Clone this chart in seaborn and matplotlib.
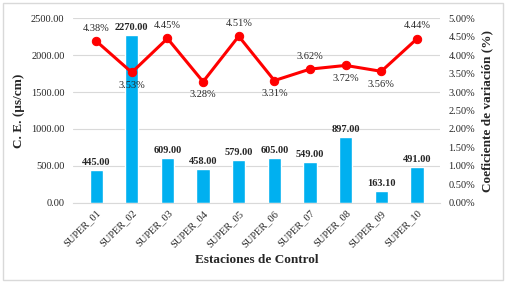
import seaborn as sns
import matplotlib.pyplot as plt
import numpy as np
import pandas as pd
from matplotlib.patches import Rectangle
from matplotlib.ticker import FuncFormatter

estaciones = ['SUPER_01', 'SUPER_02', 'SUPER_03', 'SUPER_04', 'SUPER_05',
              'SUPER_06', 'SUPER_07', 'SUPER_08', 'SUPER_09', 'SUPER_10']
ce = [445.00, 2270.00, 609.00, 458.00, 579.00, 605.00, 549.00, 897.00, 163.10, 491.00]
cv = [4.38, 3.53, 4.45, 3.28, 4.51, 3.31, 3.62, 3.72, 3.56, 4.44]
# label position for each % value: above (1) or below (-1)
cv_pos = [1, -1, 1, -1, 1, -1, 1, -1, -1, 1]

df = pd.DataFrame({'est': estaciones, 'ce': ce, 'cv': cv})

sns.set_style('white')
plt.rcParams['font.family'] = ['Liberation Serif', 'DejaVu Serif']

fig = plt.figure(figsize=(5.06, 2.83), dpi=100)
fig.patches.append(Rectangle((0.006, 0.01), 0.988, 0.98, transform=fig.transFigure,
                             fill=False, edgecolor='#d9d9d9', lw=1))
ax = fig.add_axes([0.144, 0.283, 0.726, 0.653])

sns.barplot(data=df, x='est', y='ce', color='#00b0f0', width=0.37, ax=ax,
            saturation=1, zorder=2)
ax.set_ylim(0, 2500)
ax.set_yticks(np.arange(0, 2501, 500))
ax.yaxis.set_major_formatter(FuncFormatter(lambda v, p: f'{v:.2f}'))
ax.grid(axis='y', color='#d9d9d9', lw=0.8, zorder=0)
ax.set_axisbelow(True)
for s in ['top', 'left', 'right']:
    ax.spines[s].set_visible(False)
ax.spines['bottom'].set_color('#d9d9d9')
ax.tick_params(axis='y', labelsize=7.5, length=0, pad=6)
ax.tick_params(axis='x', labelsize=7.5, length=0, pad=4)
plt.setp(ax.get_xticklabels(), rotation=45, ha='right', rotation_mode='anchor')
ax.set_xlabel('Estaciones de Control', fontsize=9.5, fontweight='bold', labelpad=4)
ax.set_ylabel('C. E. (µs/cm)', fontsize=9.5, fontweight='bold', labelpad=4)
for i, v in enumerate(ce):
    ax.text(i, v + 40, f'{v:.2f}', ha='center', va='bottom', fontsize=7.5,
            fontweight='bold')

ax2 = ax.twinx()
sns.lineplot(x=np.arange(len(cv)), y=cv, color='#ff0000', lw=2.2, marker='o',
             markersize=6, markeredgecolor='#ff0000', ax=ax2, zorder=3)
ax2.set_ylim(0, 5)
ax2.set_yticks(np.arange(0, 5.01, 0.5))
ax2.yaxis.set_major_formatter(FuncFormatter(lambda v, p: f'{v:.2f}%'))
for s in ['top', 'left', 'right', 'bottom']:
    ax2.spines[s].set_visible(False)
ax2.tick_params(axis='y', labelsize=7.5, length=0, pad=6)
ax2.set_ylabel('Coeficiente de variación (%)', fontsize=9.5, fontweight='bold',
               labelpad=4)
for i, (v, p) in enumerate(zip(cv, cv_pos)):
    ax2.annotate(f'{v:.2f}%', (i, v), xytext=(0, 6 * p), textcoords='offset points',
                 ha='center', va='bottom' if p > 0 else 'top', fontsize=7.5)

fig.savefig('out.png', dpi=100)
